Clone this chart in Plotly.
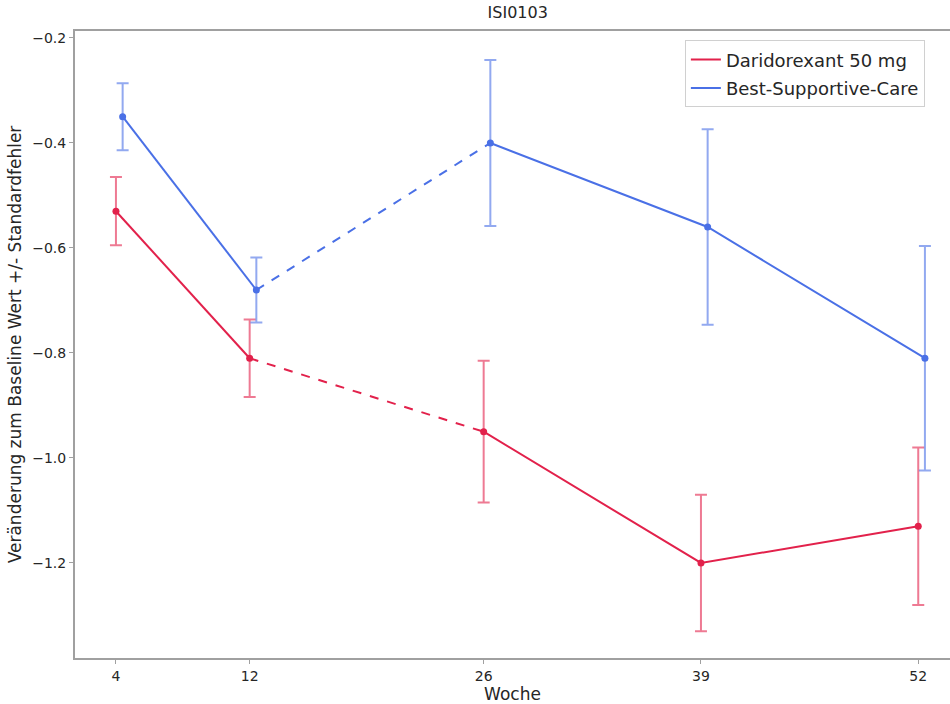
import plotly.graph_objects as go

weeks = [4, 12, 26, 39, 52]
tick_labels = ["4", "12", "26", "39", "52"]
dari_mean = [-0.53, -0.81, -0.95, -1.20, -1.13]
dari_se = [0.065, 0.074, 0.135, 0.130, 0.150]
bsc_mean = [-0.35, -0.68, -0.40, -0.56, -0.81]
bsc_se = [0.064, 0.062, 0.158, 0.186, 0.214]
dodge = [0.0, 0.4]

RED = "#E2214B"
BLUE = "#4A70E6"
RED_EB = "rgba(226,33,75,0.6)"
BLUE_EB = "rgba(74,112,230,0.6)"

fig = go.Figure()

def add_series(name, means, ses, color, ebcolor, off):
    xs = [w + off for w in weeks]
    fig.add_trace(go.Scatter(x=xs[0:2], y=means[0:2], mode="lines",
                             line=dict(color=color, width=2), name=name,
                             legendgroup=name, showlegend=True))
    fig.add_trace(go.Scatter(x=xs[1:3], y=means[1:3], mode="lines",
                             line=dict(color=color, width=2, dash="dash"),
                             legendgroup=name, showlegend=False))
    fig.add_trace(go.Scatter(x=xs[2:], y=means[2:], mode="lines",
                             line=dict(color=color, width=2),
                             legendgroup=name, showlegend=False))
    fig.add_trace(go.Scatter(x=xs, y=means, mode="markers",
                             marker=dict(color=color, size=7),
                             error_y=dict(type="data", array=ses, visible=True,
                                          color=ebcolor, thickness=2, width=6),
                             legendgroup=name, showlegend=False))

add_series("Daridorexant 50 mg", dari_mean, dari_se, RED, RED_EB, dodge[0])
add_series("Best-Supportive-Care", bsc_mean, bsc_se, BLUE, BLUE_EB, dodge[1])

fig.update_layout(
    width=950, height=704,
    margin=dict(l=75, r=0, t=31, b=46),
    plot_bgcolor="white", paper_bgcolor="white",
    font=dict(family="DejaVu Sans", color="#262626"),
    title=dict(text="ISI0103", x=0.545, xanchor="center", y=0.99, yanchor="top",
               font=dict(size=16, color="#262626")),
    legend=dict(x=0.697, xanchor="left", y=0.985, yanchor="top",
                bordercolor="#d0d0d0", borderwidth=1, bgcolor="white",
                tracegroupgap=2, font=dict(size=18, color="#262626")),
    xaxis=dict(range=[1.55, 53.9], tickvals=weeks, ticktext=tick_labels,
               showgrid=False, zeroline=False, showline=True, linecolor="#a0a0a0",
               linewidth=2, mirror=True, ticks="outside", ticklen=4, tickcolor="#a0a0a0",
               tickfont=dict(size=14),
               title=dict(text="Woche", font=dict(size=17), standoff=2)),
    yaxis=dict(range=[-1.381, -0.1867], tickvals=[-0.2, -0.4, -0.6, -0.8, -1.0, -1.2],
               ticktext=["−0.2", "−0.4", "−0.6", "−0.8", "−1.0", "−1.2"],
               showgrid=False, zeroline=False, showline=True, linecolor="#a0a0a0",
               linewidth=2, ticks="outside", ticklen=4, tickcolor="#a0a0a0",
               tickfont=dict(size=14),
               title=dict(text="Veränderung zum Baseline Wert +/- Standardfehler",
                          font=dict(size=17), standoff=6)),
)

fig.write_html("out.html")
